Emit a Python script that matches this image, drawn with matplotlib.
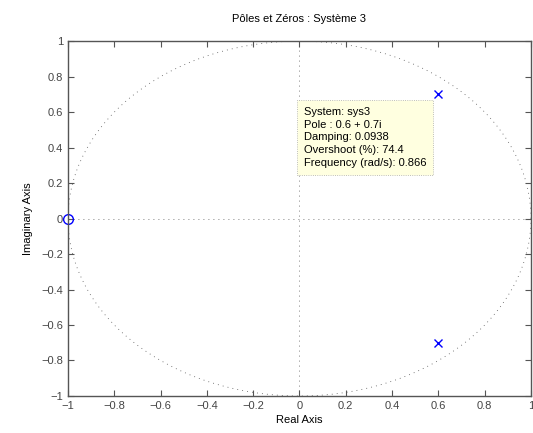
import numpy as np
import matplotlib
matplotlib.use("Agg")
import matplotlib.pyplot as plt

# poles and zeros of sys3
poles_re = [0.6, 0.6]
poles_im = [0.7, -0.7]
zeros_re = [-1.0]
zeros_im = [0.0]
ticks = [-1, -0.8, -0.6, -0.4, -0.2, 0, 0.2, 0.4, 0.6, 0.8, 1]
tick_labels = ['\u22121', '\u22120.8', '\u22120.6', '\u22120.4', '\u22120.2', '0',
               '0.2', '0.4', '0.6', '0.8', '1']
tip_lines = ["System: sys3", "Pole : 0.6 + 0.7i", "Damping: 0.0938",
             "Overshoot (%): 74.4", "Frequency (rad/s): 0.866"]

plt.rcParams['font.family'] = ['Liberation Sans', 'DejaVu Sans']

fig = plt.figure(figsize=(5.33, 4.33), dpi=100)
ax = fig.add_axes([0.1276, 0.0855, 0.8686, 0.8195])

gc = '#555555'
th = np.linspace(0, 2 * np.pi, 400)
ax.plot(np.cos(th), np.sin(th), linestyle=(0, (1, 5)), color=gc, linewidth=0.6)
ax.axhline(0, linestyle=(0, (1, 5)), color=gc, linewidth=0.6)
ax.axvline(0, linestyle=(0, (1, 5)), color=gc, linewidth=0.6)

ax.plot(poles_re, poles_im, 'x', color='blue', markersize=6, markeredgewidth=1.0)
ax.plot(zeros_re, zeros_im, 'o', markerfacecolor='none', markeredgecolor='blue',
        markersize=7, markeredgewidth=1.0, clip_on=False)

ax.set_xlim(-1, 1)
ax.set_ylim(-1, 1)
ax.set_xticks(ticks)
ax.set_xticklabels(tick_labels)
ax.set_yticks(ticks)
ax.set_yticklabels(tick_labels)
ax.tick_params(direction='in', length=4, width=0.8, colors=gc, labelsize=8,
               top=True, right=True, labelcolor='#444444')
for s in ax.spines.values():
    s.set_color(gc)
    s.set_linewidth(1.0)

ax.set_xlabel('Real Axis', fontsize=8, labelpad=3)
ax.set_ylabel('Imaginary Axis', fontsize=8, labelpad=6)
ax.set_title('Pôles et Zéros : Système 3', fontsize=8, pad=14)

ax.text(0.018, 0.63, "\n".join(tip_lines), fontsize=8, va='top', ha='left',
        linespacing=1.35,
        bbox=dict(boxstyle='square,pad=0.6', facecolor='#ffffe0',
                  edgecolor='#aaaaaa', linewidth=0.6, linestyle=':'))

fig.savefig('out.png', dpi=100)
